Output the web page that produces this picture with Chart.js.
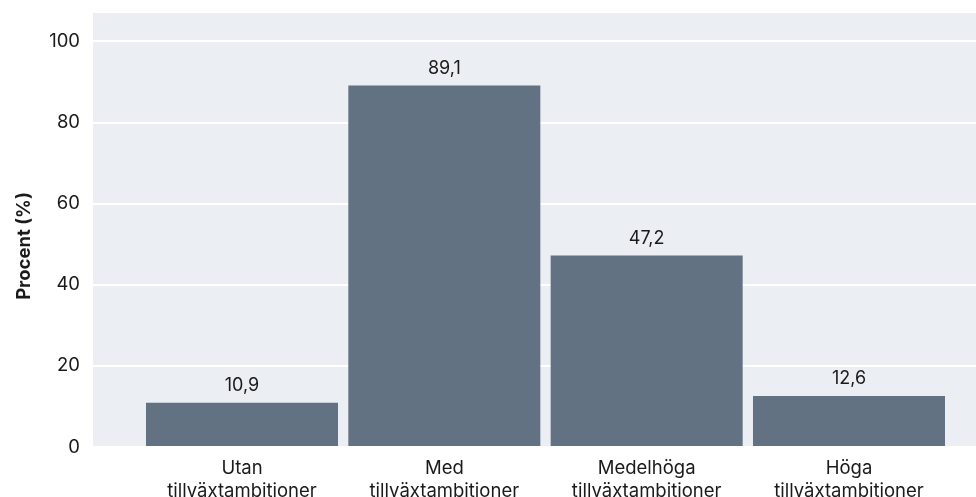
<!DOCTYPE html>
<html lang="sv">
<head>
<meta charset="utf-8">
<title>Tillväxtambitioner</title>
<script src="https://cdn.jsdelivr.net/npm/chart.js@4/dist/chart.umd.min.js"></script>
<style>
  html, body { margin: 0; padding: 0; background: #fff; }
  #wrap { width: 976px; height: 497px; position: relative; }
</style>
</head>
<body>
<div id="wrap"><canvas id="grafico"></canvas></div>
<script>
// --- Data ---
const kategorier = ["Utan tillväxtambitioner", "Med tillväxtambitioner", "Medelhöga tillväxtambitioner", "Höga tillväxtambitioner"];
const procent = [10.9, 89.1, 47.2, 12.6];
const yTicks = [0, 20, 40, 60, 80, 100];
const yTitel = "Procent (%)";

const fontFamily = "Inter, 'Noto Sans', sans-serif";
const textFarg = "#1a1a1a";
const stapelFarg = "#627282";
const bakgrund = "#ebeef3";

const format = v => v.toFixed(1).replace(".", ",");

// --- Plugin: plot background, y title and value labels ---
const ritaExtra = {
  id: "ritaExtra",
  beforeDraw(chart) {
    const { ctx, chartArea: a } = chart;
    ctx.save();
    ctx.fillStyle = bakgrund;
    ctx.fillRect(a.left, a.top, a.right - a.left, a.bottom - a.top);
    ctx.restore();
  },
  afterDatasetsDraw(chart) {
    const { ctx } = chart;
    const meta = chart.getDatasetMeta(0);
    ctx.save();
    ctx.font = "18px " + fontFamily;
    ctx.fillStyle = textFarg;
    ctx.textAlign = "center";
    ctx.textBaseline = "middle";
    meta.data.forEach((bar, i) => {
      ctx.fillText(format(procent[i]), bar.x, bar.y - 17);
    });
    // y-axelns titel
    ctx.translate(24, 246);
    ctx.rotate(-Math.PI / 2);
    ctx.font = "bold 18.5px " + fontFamily;
    ctx.fillText(yTitel, 0, 0);
    ctx.restore();
  }
};

new Chart(document.getElementById("grafico"), {
  type: "bar",
  data: {
    datasets: [{
      data: procent.map((v, i) => ({ x: i, y: v })),
      backgroundColor: stapelFarg,
      borderWidth: 0,
      barPercentage: 0.949,
      categoryPercentage: 1
    }]
  },
  options: {
    responsive: true,
    maintainAspectRatio: false,
    animation: false,
    layout: { padding: { top: 13, right: 0, left: 0, bottom: 0 } },
    plugins: { legend: { display: false }, tooltip: { enabled: false } },
    scales: {
      x: {
        type: "linear",
        offset: false,
        min: -0.7364,
        max: 3.6277,
        grid: { display: false, drawTicks: false },
        border: { display: false },
        afterBuildTicks: s => { s.ticks = kategorier.map((c, i) => ({ value: i })); },
        afterFit: s => { s.height = 50; s.paddingLeft = 0; s.paddingRight = 0; },
        ticks: {
          autoSkip: false,
          maxRotation: 0,
          padding: 10,
          color: textFarg,
          font: { family: fontFamily, size: 18.5, lineHeight: 1.25 },
          callback: v => {
            const t = kategorier[v];
            if (t === undefined) return "";
            const idx = t.indexOf(" ");
            return [t.slice(0, idx), t.slice(idx + 1)];
          }
        }
      },
      y: {
        min: 0,
        max: 107,
        grid: { color: "#ffffff", lineWidth: 2, drawTicks: false },
        border: { display: false },
        afterBuildTicks: s => { s.ticks = yTicks.map(v => ({ value: v })); },
        afterFit: s => { s.width = 93; s.paddingTop = 0; s.paddingBottom = 0; },
        ticks: {
          padding: 13,
          color: textFarg,
          font: { family: fontFamily, size: 18.5 }
        }
      }
    }
  },
  plugins: [ritaExtra]
});
</script>
</body>
</html>
